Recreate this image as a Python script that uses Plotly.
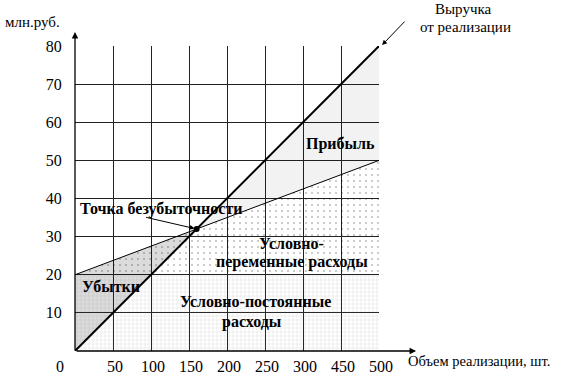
import plotly.graph_objects as go

# ---- data ----
x_ticks = [0, 50, 100, 150, 200, 250, 300, 350, 400]
x_tick_labels = ["0", "50", "100", "150", "200", "250", "300", "450", "500"]
y_ticks = [0, 10, 20, 30, 40, 50, 60, 70, 80]
volume = [0, 400]
revenue = [0, 80]
total_cost = [20, 50]
fixed_cost = [20, 20]

# derived break-even point
rs = (revenue[1] - revenue[0]) / (volume[1] - volume[0])
cs = (total_cost[1] - total_cost[0]) / (volume[1] - volume[0])
be_x = (total_cost[0] - revenue[0]) / (rs - cs)
be_y = revenue[0] + rs * be_x

FONT = "Liberation Serif, Times New Roman, DejaVu Serif, serif"
FS = 16
fig = go.Figure()

# loss region
fig.add_trace(go.Scatter(x=[volume[0], volume[0], be_x, volume[0]],
                         y=[revenue[0], total_cost[0], be_y, revenue[0]],
                         fill="toself", fillcolor="rgba(0,0,0,0.14)",
                         mode="none", hoverinfo="skip"))
# profit region
fig.add_trace(go.Scatter(x=[be_x, volume[1], volume[1], be_x],
                         y=[be_y, revenue[1], total_cost[1], be_y],
                         fill="toself", fillcolor="rgba(0,0,0,0.05)",
                         mode="none", hoverinfo="skip"))
# fixed costs (fine dotted grid)
fig.add_trace(go.Scatter(x=volume, y=fixed_cost, fill="tozeroy",
                         fillcolor="rgba(0,0,0,0)", mode="none", hoverinfo="skip",
                         fillpattern=dict(shape="+", size=4, solidity=0.12,
                                          fgcolor="#808080", bgcolor="rgba(0,0,0,0)")))
# variable costs (sparse dots)
fig.add_trace(go.Scatter(x=volume, y=total_cost, fill="tonexty",
                         fillcolor="rgba(0,0,0,0)", mode="none", hoverinfo="skip",
                         fillpattern=dict(shape=".", size=6, solidity=0.05,
                                          fgcolor="#000000", bgcolor="rgba(0,0,0,0)")))
# cost line
fig.add_trace(go.Scatter(x=volume, y=total_cost, mode="lines",
                         line=dict(color="#000", width=1), hoverinfo="skip"))
# revenue line
fig.add_trace(go.Scatter(x=volume, y=revenue, mode="lines",
                         line=dict(color="#000", width=2), hoverinfo="skip"))
# break-even point
fig.add_trace(go.Scatter(x=[be_x], y=[be_y], mode="markers",
                         marker=dict(color="#000", size=6), hoverinfo="skip"))

ann = []
# axis arrows
ann.append(dict(x=0, y=1.046, xref="paper", yref="paper", ax=0, ay=320, text="",
                showarrow=True, arrowhead=2, arrowsize=1, arrowwidth=1.3, arrowcolor="#000"))
ann.append(dict(x=1.122, y=0, xref="paper", yref="paper", ax=-341, ay=0, text="",
                showarrow=True, arrowhead=2, arrowsize=1, arrowwidth=1.3, arrowcolor="#000"))
# revenue pointer
ann.append(dict(x=1.01, y=1.003, xref="paper", yref="paper", ax=24, ay=-25, text="",
                showarrow=True, arrowhead=2, arrowsize=1, arrowwidth=1, arrowcolor="#000"))
# break-even pointer
ann.append(dict(x=be_x, y=be_y, xref="x", yref="y", ax=-52, ay=-12, text="",
                showarrow=True, arrowhead=2, arrowsize=1, arrowwidth=1, arrowcolor="#000",
                standoff=2))

def txt(s, x, y, xref="x", yref="y", bold=False, xanchor="center", size=FS):
    ann.append(dict(text=f"<b>{s}</b>" if bold else s, x=x, y=y, xref=xref, yref=yref,
                    xanchor=xanchor, yanchor="middle", showarrow=False,
                    font=dict(family=FONT, size=size, color="#000")))

txt("Точка безубыточности", 4, 37.2, bold=True, xanchor="left")
txt("Прибыль", 349, 54.3, bold=True)
txt("Убытки", 47, 16.8, bold=True)
txt("Условно-", 285.5, 28.1, bold=True)
txt("переменные расходы", 285.5, 23.3, bold=True)
txt("Условно-постоянные", 238, 12.9, bold=True)
txt("расходы", 233, 7.6, bold=True)
txt("Выручка", 1.276, 1.121, "paper", "paper", size=15)
txt("от реализации", 1.283, 1.062, "paper", "paper", size=15)
txt("млн.руб.", -0.141, 1.079, "paper", "paper", size=15)
txt("Объем реализации, шт.", 1.089, -0.033, "paper", "paper", xanchor="left", size=14.5)
for v, lab in zip(x_ticks, x_tick_labels):
    shift = -15 if v == 0 else 2
    ann.append(dict(text=lab, x=v, y=-0.052, xref="x", yref="paper", xshift=shift,
                    showarrow=False, xanchor="center", yanchor="middle",
                    font=dict(family=FONT, size=FS, color="#000")))

fig.update_layout(
    width=564, height=376, showlegend=False,
    margin=dict(l=75, r=185, t=46, b=25),
    paper_bgcolor="white", plot_bgcolor="white",
    annotations=ann,
    xaxis=dict(range=[0, 400], tickvals=x_ticks, showticklabels=False,
               showgrid=True, gridcolor="#222", gridwidth=1, zeroline=False,
               showline=False, fixedrange=True),
    yaxis=dict(range=[0, 80], tickvals=y_ticks, ticktext=[("" if v == 0 else str(v)) for v in y_ticks],
               showgrid=True, gridcolor="#222", gridwidth=1, zeroline=False,
               showline=False, ticks="outside", ticklen=9, tickcolor="rgba(0,0,0,0)",
               tickfont=dict(family=FONT, size=FS, color="#000"), fixedrange=True),
)
fig.write_html("out.html", config={"displayModeBar": False},
               post_script="document.body.style.margin='0';document.body.style.padding='0';")
